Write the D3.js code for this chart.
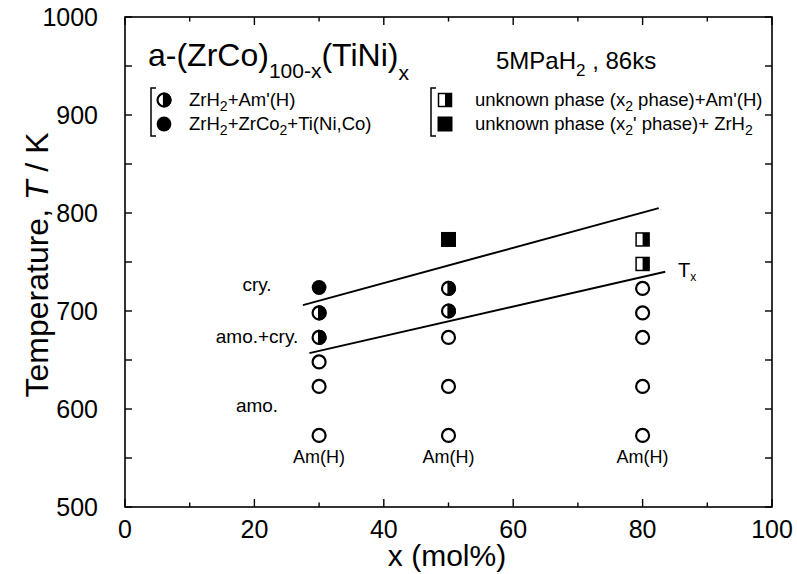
<!DOCTYPE html>
<html><head><meta charset="utf-8">
<script src="https://cdn.jsdelivr.net/npm/d3@7"></script>
<style>body{margin:0;background:#fff}svg{display:block}text{font-family:Arial,"Liberation Sans",sans-serif;fill:#000}</style>
</head><body><svg id="c" width="797" height="574"></svg>
<script>
// ---- data ----
const xTicksMajor = [0, 20, 40, 60, 80, 100];
const xTicksMinor = [10, 30, 50, 70, 90];
const yTicksMajor = [500, 600, 700, 800, 900, 1000];
const yTicksMinor = [550, 650, 750, 850, 950];
const openCircles = [[30,573],[30,623],[30,648],[50,573],[50,623],[50,673],[80,573],[80,623],[80,673],[80,698],[80,723]];
const halfCircles = [[30,673],[30,698],[50,700],[50,723]];
const filledCircles = [[30,724]];
const halfSquares = [[80,748],[80,773]];
const filledSquares = [[50,773]];
const upperLine = [[27.5,706],[82.5,805]];
const lowerLine = [[28.5,657],[83.5,740]];
const columnLabels = [30, 50, 80];
const regionLabels = [["cry.",723],["amo.+cry.",670],["amo.",600]];

const svg = d3.select("#c");
const L=125,R=772,T=17,B=507;
const x = d3.scaleLinear().domain([0,100]).range([L,R]);
const y = d3.scaleLinear().domain([500,1000]).range([B,T]);

// frame
svg.append("rect").attr("x",L).attr("y",T).attr("width",R-L).attr("height",B-T)
  .attr("fill","none").attr("stroke","#000").attr("stroke-width",1.6);

// ticks (inward, all four sides)
const tk = svg.append("g").attr("stroke","#000").attr("stroke-width",1.4);
function xt(v,len){ tk.append("line").attr("x1",x(v)).attr("x2",x(v)).attr("y1",B).attr("y2",B-len);
  tk.append("line").attr("x1",x(v)).attr("x2",x(v)).attr("y1",T).attr("y2",T+len); }
function yt(v,len){ tk.append("line").attr("y1",y(v)).attr("y2",y(v)).attr("x1",L).attr("x2",L+len);
  tk.append("line").attr("y1",y(v)).attr("y2",y(v)).attr("x1",R).attr("x2",R-len); }
xTicksMajor.forEach(v=>xt(v,8)); xTicksMinor.forEach(v=>xt(v,4.5));
yTicksMajor.forEach(v=>yt(v,7)); yTicksMinor.forEach(v=>yt(v,7));

// tick labels
svg.append("g").selectAll("text").data(xTicksMajor).join("text")
  .attr("x",d=>x(d)).attr("y",538).attr("text-anchor","middle").attr("font-size",25).text(d=>d);
svg.append("g").selectAll("text").data(yTicksMajor).join("text")
  .attr("x",98).attr("y",d=>y(d)+9).attr("text-anchor","end").attr("font-size",25).text(d=>d);

// axis titles
svg.append("text").attr("x",447).attr("y",566).attr("text-anchor","middle").attr("font-size",30).text("x (mol%)");
const yl = svg.append("text").attr("transform","translate(48,265) rotate(-90)").attr("text-anchor","middle").attr("font-size",32);
yl.append("tspan").text("Temperature, ");
yl.append("tspan").attr("font-style","italic").text("T");
yl.append("tspan").text(" / K");

// title
const tt = svg.append("text").attr("x",148).attr("y",66).attr("font-size",32);
tt.append("tspan").text("a-(ZrCo)");
tt.append("tspan").attr("dy",12).attr("font-size",21).text("100-x");
tt.append("tspan").attr("dy",-12).text("(TiNi)");
tt.append("tspan").attr("dy",14).attr("font-size",21).text("x");

const cond = svg.append("text").attr("x",496).attr("y",69).attr("font-size",24);
cond.append("tspan").text("5MPaH");
cond.append("tspan").attr("dy",7).attr("font-size",17).text("2");
cond.append("tspan").attr("dy",-7).text(" , 86ks");

// lines
const line = d3.line().x(d=>x(d[0])).y(d=>y(d[1]));
[upperLine, lowerLine].forEach(l=>svg.append("path").attr("d",line(l)).attr("fill","none").attr("stroke","#000").attr("stroke-width",2));

// markers
const r=6.5, s=13;
function openC(g,cx,cy){ g.append("circle").attr("cx",cx).attr("cy",cy).attr("r",r).attr("fill","#fff").attr("stroke","#000").attr("stroke-width",2.2); }
function halfC(g,cx,cy){ openC(g,cx,cy);
  g.append("path").attr("d",`M${cx},${cy-r} A${r},${r} 0 0 1 ${cx},${cy+r} Z`).attr("fill","#000").attr("stroke","#000").attr("stroke-width",2.2); }
function fullC(g,cx,cy){ g.append("circle").attr("cx",cx).attr("cy",cy).attr("r",r+0.9).attr("fill","#000"); }
function halfS(g,cx,cy){ g.append("rect").attr("x",cx-s/2).attr("y",cy-s/2).attr("width",s).attr("height",s).attr("fill","#fff").attr("stroke","#000").attr("stroke-width",1.5);
  g.append("rect").attr("x",cx).attr("y",cy-s/2).attr("width",s/2).attr("height",s).attr("fill","#000"); }
function fullS(g,cx,cy){ g.append("rect").attr("x",cx-s/2-1).attr("y",cy-s/2-1).attr("width",s+2).attr("height",s+2).attr("fill","#000"); }
const mk = svg.append("g");
openCircles.forEach(d=>openC(mk,x(d[0]),y(d[1])));
halfCircles.forEach(d=>halfC(mk,x(d[0]),y(d[1])));
filledCircles.forEach(d=>fullC(mk,x(d[0]),y(d[1])));
halfSquares.forEach(d=>halfS(mk,x(d[0]),y(d[1])));
filledSquares.forEach(d=>fullS(mk,x(d[0]),y(d[1])));

// annotations
svg.append("g").selectAll("text").data(columnLabels).join("text")
  .attr("x",d=>x(d)).attr("y",y(573)+28).attr("text-anchor","middle").attr("font-size",18).text("Am(H)");
svg.append("g").selectAll("text").data(regionLabels).join("text")
  .attr("x",257).attr("y",d=>y(d[1])+3).attr("text-anchor","middle").attr("font-size",19).text(d=>d[0]);
const tx = svg.append("text").attr("x",678).attr("y",277).attr("font-family","'Liberation Serif','Times New Roman',serif").attr("font-size",20);
tx.append("tspan").text("T");
tx.append("tspan").attr("dy",4).attr("font-size",12).text("x");

// legend
const lg = svg.append("g");
function bracket(bx,y1,y2){ lg.append("path").attr("d",`M${bx+5},${y1} H${bx} V${y2} H${bx+5}`).attr("fill","none").attr("stroke","#000").attr("stroke-width",1.5); }
bracket(151,88,136); bracket(431,88,136);
halfC(lg,164,100); fullC(lg,164,124);
halfS(lg,445,100); fullS(lg,445,124);
function legText(tx0,ty,parts){ const t=lg.append("text").attr("x",tx0).attr("y",ty).attr("font-size",18.5);
  parts.forEach(p=>{ const sp=t.append("tspan").text(p[0]); if(p[1]){sp.attr("dy",p[1]).attr("font-size",p[2]||18.5);} }); }
legText(189,106,[["ZrH"],["2",5,14],["+Am'(H)",-5,18.5]]);
legText(189,130,[["ZrH"],["2",5,14],["+ZrCo",-5,18.5],["2",5,14],["+Ti(Ni,Co)",-5,18.5]]);
legText(475,106,[["unknown phase (x"],["2",5,14],[" phase)+Am'(H)",-5,18.5]]);
legText(475,130,[["unknown phase (x"],["2",5,14],["' phase)+  ZrH",-5,18.5],["2",5,14]]);
</script></body></html>
